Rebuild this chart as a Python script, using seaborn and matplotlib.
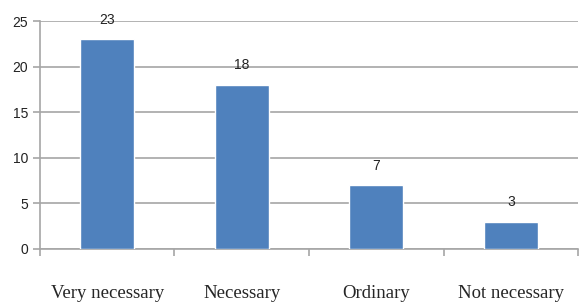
import pandas as pd
import matplotlib.pyplot as plt
import seaborn as sns
import numpy as np
from matplotlib.ticker import FixedLocator

categories = ['Very necessary', 'Necessary', 'Ordinary', 'Not necessary']
counts = [23, 18, 7, 3]

data = pd.DataFrame({'category': categories, 'count': counts})

sns.set_style('white')
plt.rcParams['font.family'] = ['Liberation Sans', 'DejaVu Sans']

fig = plt.figure(figsize=(5.87, 3.02), dpi=100)
ax = fig.add_axes([0.068, 0.1755, 0.917, 0.7545])

sns.barplot(data=data, x='category', y='count', color='#4f81bd',
            saturation=1, width=0.4, ax=ax, zorder=3)

ax.set_ylim(0, 25)
ax.set_xlim(-0.5, len(categories) - 0.5)
ax.set_yticks(range(0, 26, 5))
ax.yaxis.grid(True, color='#a6a6a6', linewidth=1.2, zorder=0)
ax.set_axisbelow(True)

# value labels above bars
for i, v in enumerate(counts):
    ax.annotate(str(v), (i, v), xytext=(0, 9), textcoords='offset points',
                ha='center', va='bottom', fontsize=10, color='#222222')

for s in ['top', 'right']:
    ax.spines[s].set_visible(False)
for s in ['left', 'bottom']:
    ax.spines[s].set_color('#a6a6a6')
    ax.spines[s].set_linewidth(1.2)

# tick marks between categories
ax.xaxis.set_minor_locator(FixedLocator(np.arange(-0.5, len(categories), 1)))
ax.tick_params(axis='x', which='minor', length=5, color='#a6a6a6', width=1.2, bottom=True)
ax.tick_params(axis='x', which='major', length=0, pad=26, labelsize=13.5)
ax.tick_params(axis='y', length=5, color='#a6a6a6', width=1.2, left=True,
               labelsize=10, labelcolor='#222222')
for lbl in ax.get_xticklabels():
    lbl.set_family('Liberation Serif')

ax.set_xlabel('')
ax.set_ylabel('')

plt.savefig('out.png', dpi=100)
